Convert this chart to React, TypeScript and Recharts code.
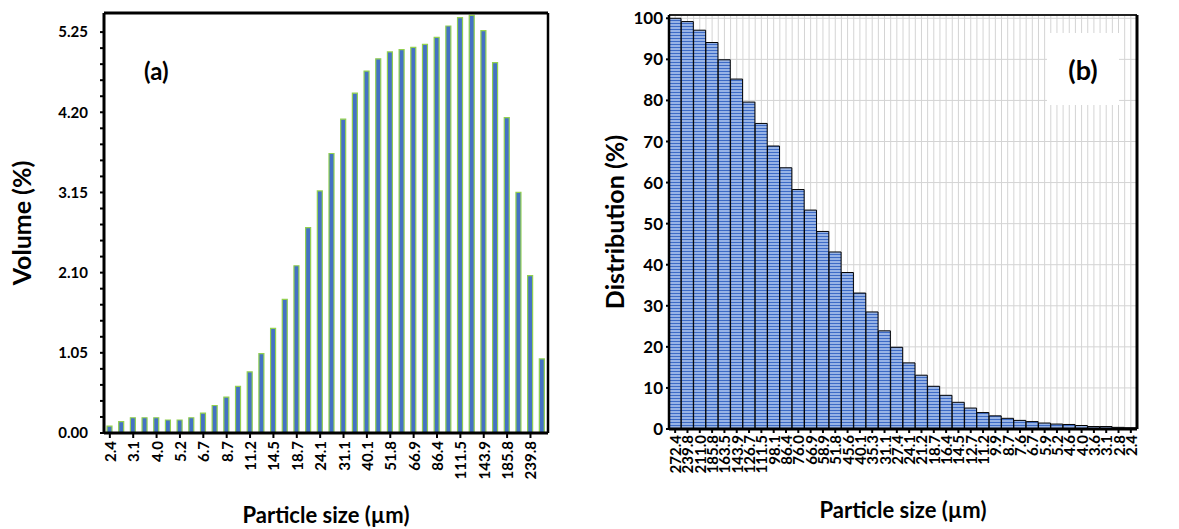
import React from 'react';
import { BarChart, Bar, XAxis, YAxis, CartesianGrid, ReferenceLine } from 'recharts';

// particle sizes (µm), ascending for panel (a)
const sizesAsc = ['2.4', '2.8', '3.1', '3.6', '4.0', '4.6', '5.2', '5.9', '6.7', '7.6', '8.7', '9.9', '11.2', '12.7', '14.5', '16.4', '18.7', '21.2', '24.1', '27.4', '31.1', '35.3', '40.1', '45.6', '51.8', '58.9', '66.9', '76.0', '86.4', '98.1', '111.5', '126.7', '143.9', '163.5', '185.8', '211.0', '239.8', '272.4'];
const volume = [0.09, 0.15, 0.2, 0.2, 0.2, 0.17, 0.17, 0.2, 0.26, 0.36, 0.47, 0.61, 0.8, 1.04, 1.37, 1.75, 2.19, 2.69, 3.17, 3.66, 4.11, 4.45, 4.74, 4.9, 4.99, 5.02, 5.05, 5.09, 5.18, 5.33, 5.44, 5.47, 5.27, 4.85, 4.13, 3.15, 2.06, 0.97];

// panel (b), descending sizes with cumulative distribution
const sizesDesc = ['272.4', '239.8', '211.0', '185.8', '163.5', '143.9', '126.7', '111.5', '98.1', '86.4', '76.0', '66.9', '58.9', '51.8', '45.6', '40.1', '35.3', '31.1', '27.4', '24.1', '21.2', '18.7', '16.4', '14.5', '12.7', '11.2', '9.9', '8.7', '7.6', '6.7', '5.9', '5.2', '4.6', '4.0', '3.6', '3.1', '2.8', '2.4'];
const cumulative = [100, 99.2, 97.1, 94.1, 89.9, 85.2, 79.6, 74.4, 68.9, 63.6, 58.3, 53.3, 48.1, 43.1, 38.1, 33.1, 28.5, 23.9, 19.9, 16.1, 13.1, 10.4, 8.2, 6.5, 5.1, 4.0, 3.2, 2.6, 2.1, 1.8, 1.45, 1.2, 1.1, 0.85, 0.6, 0.6, 0.4, 0.3];

const volumeTicks = [0, 0.21, 0.42, 0.63, 0.84, 1.05, 1.26, 1.47, 1.68, 1.89, 2.1, 2.31, 2.52, 2.73, 2.94, 3.15, 3.36, 3.57, 3.78, 3.99, 4.2, 4.41, 4.62, 4.83, 5.04, 5.25];
const distTicks = [0, 10, 20, 30, 40, 50, 60, 70, 80, 90, 100];

const dataA = sizesAsc.map((s, i) => ({ size: s, vol: volume[i] }));
const dataB = sizesDesc.map((s, i) => ({ size: s, dist: cumulative[i] }));

const FONT = "Lato, 'Open Sans', sans-serif";

const RotTick = (props: any) => {
  const { x, y, payload, fontSize } = props;
  return (
    <text
      x={x}
      y={y}
      transform={`rotate(-90, ${x}, ${y})`}
      textAnchor="end"
      dominantBaseline="central"
      fontFamily={FONT}
      fontWeight={700}
      fontSize={fontSize}
      fill="#000"
    >
      {payload.value}
    </text>
  );
};

const titleStyle = { fontFamily: FONT, fontWeight: 700, fontSize: 22, fill: '#000' };

export default function App() {
  return (
    <div style={{ position: 'absolute', left: 0, top: 0, width: 1179, height: 529, background: '#fff', fontFamily: FONT }}>
      {/* panel (a) */}
      <div style={{ position: 'absolute', left: 0, top: 0 }}>
        <BarChart width={580} height={529} data={dataA} margin={{ top: 13, right: 0, bottom: 0, left: 0 }} barCategoryGap={0}>
          <XAxis
            dataKey="size"
            interval={1}
            height={96}
            tick={<RotTick fontSize={15} />}
            tickSize={5}
            tickMargin={3}
            axisLine={{ stroke: '#000', strokeWidth: 3 }}
            tickLine={{ stroke: '#000', strokeWidth: 2 }}
            label={{ value: 'Particle size (µm)', position: 'insideBottom', offset: 6, style: titleStyle }}
          />
          <YAxis
            width={104}
            domain={[0, 5.5]}
            ticks={volumeTicks}
            interval={0}
            tickFormatter={(v: number) => (Math.round(v * 100) % 105 === 0 ? v.toFixed(2) : '')}
            tick={{ fontFamily: FONT, fontWeight: 700, fontSize: 15, fill: '#000' }}
            tickSize={4}
            tickMargin={12}
            axisLine={{ stroke: '#000', strokeWidth: 3 }}
            tickLine={{ stroke: '#000', strokeWidth: 2 }}
            label={{ value: 'Volume (%)', angle: -90, position: 'insideLeft', offset: 22, style: { ...titleStyle, fontSize: 25, textAnchor: 'middle' } }}
          />
          <YAxis yAxisId="frame" orientation="right" width={32} domain={[0, 5.5]} tick={false} tickLine={false} axisLine={{ stroke: '#000', strokeWidth: 2.5 }} />
          <ReferenceLine y={5.5} stroke="#000" strokeWidth={3} />
          <Bar dataKey="vol" fill="#4472C4" stroke="#92D050" strokeWidth={1.2} barSize={5} isAnimationActive={false} />
        </BarChart>
      </div>
      <div style={{ position: 'absolute', left: 144, top: 56, fontSize: 24, fontWeight: 700, color: '#000' }}>(a)</div>

      {/* panel (b) */}
      <div style={{ position: 'absolute', left: 580, top: 0 }}>
        <BarChart width={599} height={529} data={dataB} margin={{ top: 15, right: 0, bottom: 0, left: 0 }} barCategoryGap={0}>
          <defs>
            <pattern id="stripes" width="4" height="3" patternUnits="userSpaceOnUse">
              <rect width="4" height="3" fill="#97B3E6" />
              <rect y="2" width="4" height="1" fill="#3D6BC6" />
            </pattern>
          </defs>
          <CartesianGrid
            stroke="#D4D4D4"
            verticalCoordinatesGenerator={({ offset }: any) => {
              const n = sizesDesc.length * 2;
              const step = offset.width / n;
              const out: number[] = [];
              for (let i = 1; i < n; i++) out.push(offset.left + i * step);
              return out;
            }}
          />
          <XAxis
            dataKey="size"
            interval={0}
            height={100}
            tick={<RotTick fontSize={15} />}
            tickSize={4}
            tickMargin={2}
            axisLine={{ stroke: '#000', strokeWidth: 3 }}
            tickLine={{ stroke: '#000', strokeWidth: 2 }}
            label={{ value: 'Particle size (µm)', position: 'insideBottom', offset: 11, style: titleStyle }}
          />
          <YAxis
            width={89}
            domain={[0, 100.8]}
            ticks={distTicks}
            interval={0}
            tick={{ fontFamily: FONT, fontWeight: 700, fontSize: 17, fill: '#000' }}
            tickSize={3}
            tickMargin={3}
            axisLine={{ stroke: '#000', strokeWidth: 2.5 }}
            tickLine={{ stroke: '#000', strokeWidth: 2 }}
            label={{ value: 'Distribution (%)', angle: -90, position: 'insideLeft', offset: 35, style: { ...titleStyle, fontSize: 25, textAnchor: 'middle' } }}
          />
          <YAxis
            yAxisId="pct"
            orientation="right"
            width={42}
            domain={[0, 100.8]}
            ticks={distTicks}
            interval={0}
            tickFormatter={(v: number) => `${v}%`}
            tick={{ fontFamily: FONT, fontWeight: 700, fontSize: 12.5, fill: '#000' }}
            tickSize={4}
            tickMargin={4}
            axisLine={{ stroke: '#000', strokeWidth: 3 }}
            tickLine={{ stroke: '#000', strokeWidth: 2 }}
          />
          <ReferenceLine y={100.8} stroke="#222" strokeWidth={2} />
          <Bar dataKey="dist" fill="url(#stripes)" stroke="#000" strokeWidth={1} isAnimationActive={false} />
        </BarChart>
      </div>
      <div style={{ position: 'absolute', left: 1047, top: 33, width: 72, height: 72, background: '#fff', display: 'flex', alignItems: 'center', justifyContent: 'center', fontSize: 27, fontWeight: 700, color: '#000' }}>(b)</div>
    </div>
  );
}
